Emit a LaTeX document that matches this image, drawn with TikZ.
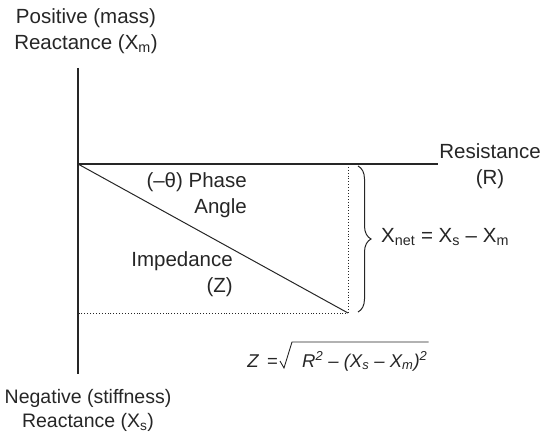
\documentclass[tikz,border=0pt]{standalone}
\usepackage{fontspec}
\setmainfont{Liberation Sans}
\usepackage{tikz}
\usetikzlibrary{calc,positioning,decorations.pathreplacing}
\definecolor{inkx}{HTML}{262626}
\tikzset{
  axis/.style={inkx,line width=1.3pt},
  guide/.style={inkx,line width=0.9pt,dotted},
  lbl/.style={font=\fontsize{20.5}{26}\selectfont,inner sep=0pt,text=inkx},
  sublbl/.style={font=\fontsize{19.5}{24}\selectfont,inner sep=0pt,text=inkx},
  eqn/.style={font=\fontsize{18.5}{22}\selectfont\itshape,inner sep=0pt,text=inkx,anchor=base west}
}

\begin{document}
\begin{tikzpicture}[x=1pt,y=-1pt]
\useasboundingbox (0,0) rectangle (556,438);
\coordinate (T) at (78,68); \coordinate (B) at (78,374);
\coordinate (O) at (78,164); \coordinate (E) at (438,164);
\coordinate (P) at (348,313); \coordinate (Q) at (348,164); \coordinate (S) at (78,313);
\draw[axis] (T)--(B);
\draw[axis] (O)--(E);
\draw[guide] (Q)--(P)--(S);
\draw[inkx,line width=1pt] (O)--(P);
\draw[inkx,line width=1pt,decorate,decoration={brace,amplitude=13pt}] ($(Q)+(10,2)$)--($(P)+(10,-1)$);
\node[lbl,align=center] (pos) at (86,31) {Positive (mass)\\Reactance (X\textsubscript{m})};
\node[sublbl,align=center] (neg) at (88,410) {Negative (stiffness)\\Reactance (X\textsubscript{s})};
\node[lbl,align=center] (res) at (490,166) {Resistance\\(R)};
\node[lbl,align=right,anchor=east] (ang) at (247,195) {(–θ) Phase\\Angle};
\node[lbl,align=right,anchor=east] (imp) at (233,274) {Impedance\\(Z)};
\node[lbl,anchor=base west] (xnet) at (381,242) {X\textsubscript{net} = X\textsubscript{s} – X\textsubscript{m}};
\node[eqn,anchor=base east] (zeq) at (278,367) {Z\hspace{0.45em}=};
\node[eqn] (rad) at (302,367) {R\textsuperscript{2} – (X\textsubscript{s} – X\textsubscript{m})\textsuperscript{2}};
\draw[inkx,line width=0.9pt] ($(rad.base west)+(-22,-6)$)--($(rad.base west)+(-18,1)$)--($(rad.base west)+(-10,-25)$)--($(rad.base east)+(1,-25)$);
\end{tikzpicture}
\end{document}
